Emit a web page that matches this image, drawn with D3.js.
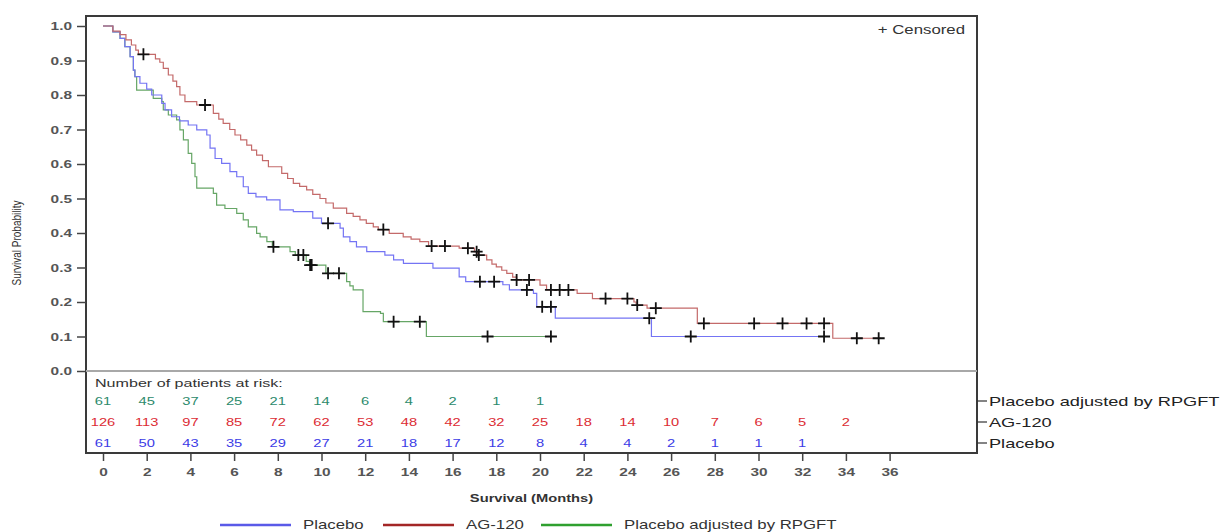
<!DOCTYPE html>
<html lang="en">
<head>
<meta charset="UTF-8">
<title>Kaplan-Meier Survival</title>
<script src="https://d3js.org/d3.v7.min.js"></script>
<style>
  body { margin: 0; background: #fff; }
  svg { display: block; font-family: "Liberation Sans", Arial, sans-serif; }
</style>
</head>
<body>
<div id="chart"></div>
<script>
// ---- data ----
var monthTicks = [0, 2, 4, 6, 8, 10, 12, 14, 16, 18, 20, 22, 24, 26, 28, 30, 32, 34, 36];
var probTicks = [0, 0.1, 0.2, 0.3, 0.4, 0.5, 0.6, 0.7, 0.8, 0.9, 1.0];

// at-risk counts at each 2-month tick
var riskAdjusted = [61, 45, 37, 25, 21, 14, 6, 4, 2, 1, 1];
var riskAG120 = [126, 113, 97, 85, 72, 62, 53, 48, 42, 32, 25, 18, 14, 10, 7, 6, 5, 2];
var riskPlacebo = [61, 50, 43, 35, 29, 27, 21, 18, 17, 12, 8, 4, 4, 2, 1, 1, 1];

// step curves: [month, survival from that month on]
var ag120Steps = [[0,1],[0.45,0.985],[0.78,0.975],[1.05,0.96],[1.3,0.945],[1.5,0.93],[1.62,0.918],[2.4,0.905],[2.6,0.895],[2.76,0.877],
  [2.99,0.858],[3.2,0.84],[3.37,0.824],[3.52,0.8],[3.75,0.781],[4.29,0.771],[5.05,0.747],[5.3,0.73],[5.5,0.718],[5.8,0.7],
  [6.04,0.684],[6.3,0.67],[6.58,0.655],[6.8,0.64],[7.03,0.626],[7.3,0.61],[7.57,0.592],[8.18,0.573],[8.45,0.558],[8.71,0.544],
  [9.0,0.535],[9.32,0.525],[9.6,0.512],[9.93,0.5],[10.2,0.487],[10.54,0.472],[11.15,0.457],[11.45,0.448],[11.76,0.438],[12.05,0.428],
  [12.37,0.418],[12.6,0.41],[13.1,0.399],[13.74,0.389],[14.1,0.382],[14.5,0.375],[14.9,0.362],[16.3,0.356],[17.0,0.346],[17.15,0.336],
  [17.56,0.322],[17.8,0.31],[18.0,0.302],[18.25,0.292],[18.48,0.283],[18.75,0.272],[18.93,0.264],[20.0,0.249],[20.3,0.235],[21.7,0.225],
  [22.4,0.21],[24.3,0.2],[24.4,0.191],[24.9,0.182],[27.2,0.138],[33.4,0.095]];
var ag120End = 35.6;
var ag120Censor = [1.85, 4.67, 12.83, 15.04, 15.65, 16.7, 17.1, 17.2, 18.93, 19.5, 20.5, 20.9, 21.3, 23.0, 24.0, 24.45, 25.3, 27.5, 29.8, 31.1, 32.2, 33.0, 34.5, 35.5];

var placeboSteps = [[0,1],[0.45,0.983],[0.78,0.964],[1.0,0.94],[1.24,0.911],[1.39,0.872],[1.46,0.853],[1.69,0.834],[2.0,0.817],[2.23,0.8],
  [2.69,0.776],[2.84,0.757],[3.14,0.737],[3.5,0.725],[3.9,0.713],[4.29,0.699],[4.75,0.684],[4.9,0.646],[5.13,0.616],[5.43,0.602],
  [5.81,0.578],[6.12,0.563],[6.42,0.534],[6.65,0.515],[7.0,0.505],[7.49,0.496],[8.1,0.467],[8.71,0.462],[9.6,0.443],[10.0,0.428],
  [10.85,0.414],[11.0,0.389],[11.3,0.375],[11.6,0.36],[12.07,0.346],[12.9,0.336],[13.3,0.322],[13.75,0.312],[15.1,0.298],[16.3,0.273],
  [16.6,0.259],[18.3,0.25],[18.6,0.235],[19.7,0.225],[19.85,0.186],[20.7,0.153],[25.1,0.1]];
var placeboEnd = 33.0;
var placeboCensor = [10.3, 17.25, 17.9, 19.4, 20.1, 20.5, 25.0, 26.9, 33.0];

var adjustedSteps = [[0,1],[0.45,0.983],[0.78,0.964],[1.0,0.94],[1.24,0.911],[1.39,0.872],[1.46,0.853],[1.54,0.814],[2.3,0.79],[2.69,0.781],
  [2.76,0.757],[2.99,0.742],[3.37,0.728],[3.52,0.699],[3.68,0.67],[3.9,0.631],[4.06,0.602],[4.21,0.563],[4.29,0.53],[5.05,0.515],
  [5.2,0.481],[5.58,0.471],[6.12,0.457],[6.42,0.438],[6.65,0.418],[7.03,0.399],[7.19,0.389],[7.5,0.375],[7.75,0.36],[8.56,0.346],
  [8.8,0.336],[9.3,0.318],[9.45,0.307],[10.2,0.283],[11.15,0.259],[11.3,0.247],[11.45,0.235],[11.9,0.172],[12.7,0.167],[12.83,0.143],
  [14.8,0.1]];
var adjustedEnd = 20.6;
var adjustedCensor = [7.8, 8.94, 9.17, 9.48, 9.55, 10.3, 10.8, 13.3, 14.5, 17.6, 20.5];

var seriesNames = ["Placebo", "AG-120", "Placebo adjusted by RPGFT"];

// ---- layout ----
var W = 1225, H = 532;
var frame = { left: 86, right: 977, top: 16, bottom: 453 };
var WIDE = 1.4; // the original output is stretched sideways

var svg = d3.select("#chart").append("svg")
  .attr("width", W).attr("height", H);

var x = d3.scaleLinear().domain([0, 36]).range([103, 889.6]);
var y = d3.scaleLinear().domain([0, 1]).range([371, 26]);

var colors = {
  placebo: { line: "#7474f4", text: "#3c3ce6", legend: "#5a5ae8" },
  ag120: { line: "#c46a6a", text: "#dc2c34", legend: "#a32626" },
  adjusted: { line: "#66a666", text: "#2c8a6c", legend: "#2fa02f" }
};

// widen text glyphs around their own anchor point
function widen(sel) {
  sel.attr("transform", function () {
    var t = d3.select(this);
    var x0 = +t.attr("x") || 0, y0 = +t.attr("y") || 0;
    return "translate(" + x0 + "," + y0 + ") scale(" + WIDE + ",1) translate(" + (-x0) + "," + (-y0) + ")";
  });
}

// frame
svg.append("rect")
  .attr("x", frame.left).attr("y", frame.top)
  .attr("width", frame.right - frame.left).attr("height", frame.bottom - frame.top)
  .attr("fill", "none").attr("stroke", "#3a3a3a").attr("stroke-width", 2);

// separator line at 0.0
svg.append("line")
  .attr("x1", frame.left).attr("x2", frame.right)
  .attr("y1", y(0)).attr("y2", y(0))
  .attr("stroke", "#a8a8a8").attr("stroke-width", 2);

// y axis
var yAxis = svg.append("g")
  .attr("transform", "translate(" + frame.left + ",0)")
  .call(d3.axisLeft(y).tickValues(probTicks).tickFormat(d3.format(".1f")).tickSize(9).tickPadding(5));
yAxis.select(".domain").remove();
yAxis.selectAll("line").attr("stroke", "#444").attr("stroke-width", 1.5);
yAxis.selectAll("text").style("font-size", "11px").attr("fill", "#555").style("font-weight", "bold").call(widen);

// x axis
var xAxis = svg.append("g")
  .attr("transform", "translate(0," + (frame.bottom + 1) + ")")
  .call(d3.axisBottom(x).tickValues(monthTicks).tickSize(7).tickPadding(7));
xAxis.select(".domain").remove();
xAxis.selectAll("line").attr("stroke", "#444").attr("stroke-width", 1.5);
xAxis.selectAll("text").style("font-size", "11px").attr("fill", "#555").style("font-weight", "bold").call(widen);

// axis titles
svg.append("text")
  .attr("x", (frame.left + frame.right) / 2).attr("y", 502)
  .attr("text-anchor", "middle")
  .style("font-size", "10.5px").style("font-weight", "bold").attr("fill", "#333")
  .text("Survival (Months)")
  .call(widen);

svg.append("text")
  .attr("transform", "translate(21,243) rotate(-90) scale(1,1.3)")
  .attr("text-anchor", "middle")
  .style("font-size", "10px").attr("fill", "#333")
  .text("Survival Probability");

// curves
var line = d3.line()
  .x(function (d) { return x(d[0]); })
  .y(function (d) { return y(d[1]); })
  .curve(d3.curveStepAfter);

function survivalAt(steps, t) {
  var s = 1;
  steps.forEach(function (p) { if (p[0] <= t) s = p[1]; });
  return s;
}

function drawCurve(steps, end, censor, color) {
  var pts = steps.concat([[end, steps[steps.length - 1][1]]]);
  svg.append("path")
    .datum(pts)
    .attr("d", line)
    .attr("fill", "none")
    .attr("stroke", color)
    .attr("stroke-width", 1.2);
  svg.selectAll(null)
    .data(censor)
    .enter()
    .append("path")
    .attr("d", function (t) {
      var cx = x(t), cy = y(survivalAt(steps, t));
      return "M" + (cx - 6) + "," + cy + "H" + (cx + 6) + "M" + cx + "," + (cy - 6) + "V" + (cy + 6);
    })
    .attr("stroke", "#111")
    .attr("stroke-width", 1.8)
    .attr("fill", "none");
}

drawCurve(adjustedSteps, adjustedEnd, adjustedCensor, colors.adjusted.line);
drawCurve(placeboSteps, placeboEnd, placeboCensor, colors.placebo.line);
drawCurve(ag120Steps, ag120End, ag120Censor, colors.ag120.line);

// censored key
svg.append("text")
  .attr("x", 965).attr("y", 34)
  .attr("text-anchor", "end")
  .style("font-size", "12px").attr("fill", "#333")
  .text("+ Censored")
  .call(widen);

// at-risk table
svg.append("text")
  .attr("x", 95).attr("y", 387)
  .style("font-size", "11.5px").attr("fill", "#333")
  .text("Number of patients at risk:")
  .call(widen);

var riskRows = [
  { vals: riskAdjusted, y: 401, color: colors.adjusted.text, label: seriesNames[2] },
  { vals: riskAG120, y: 422, color: colors.ag120.text, label: seriesNames[1] },
  { vals: riskPlacebo, y: 443, color: colors.placebo.text, label: seriesNames[0] }
];

riskRows.forEach(function (row) {
  svg.selectAll(null)
    .data(row.vals)
    .enter()
    .append("text")
    .attr("x", function (d, i) { return x(monthTicks[i]); })
    .attr("y", row.y)
    .attr("dy", "0.35em")
    .attr("text-anchor", "middle")
    .style("font-size", "10.5px")
    .attr("fill", row.color)
    .text(function (d) { return d; })
    .call(widen);

  svg.append("line")
    .attr("x1", frame.right).attr("x2", frame.right + 10)
    .attr("y1", row.y).attr("y2", row.y)
    .attr("stroke", "#333").attr("stroke-width", 1.2);
  svg.append("text")
    .attr("x", frame.right + 12).attr("y", row.y)
    .attr("dy", "0.35em")
    .style("font-size", "13px").attr("fill", "#222")
    .text(row.label)
    .call(widen);
});

// bottom legend
var legendItems = [
  { name: seriesNames[0], color: colors.placebo.legend, x: 220 },
  { name: seriesNames[1], color: colors.ag120.legend, x: 383 },
  { name: seriesNames[2], color: colors.adjusted.legend, x: 541 }
];
var legend = svg.selectAll(".legend")
  .data(legendItems)
  .enter()
  .append("g")
  .attr("class", "legend")
  .attr("transform", function (d) { return "translate(" + d.x + ",525)"; });
legend.append("line")
  .attr("x1", 0).attr("x2", 71)
  .attr("stroke", function (d) { return d.color; })
  .attr("stroke-width", 2.5);
legend.append("text")
  .attr("x", 83).attr("y", 0).attr("dy", "0.35em")
  .style("font-size", "12px").attr("fill", "#333")
  .text(function (d) { return d.name; })
  .call(widen);
</script>
</body>
</html>
